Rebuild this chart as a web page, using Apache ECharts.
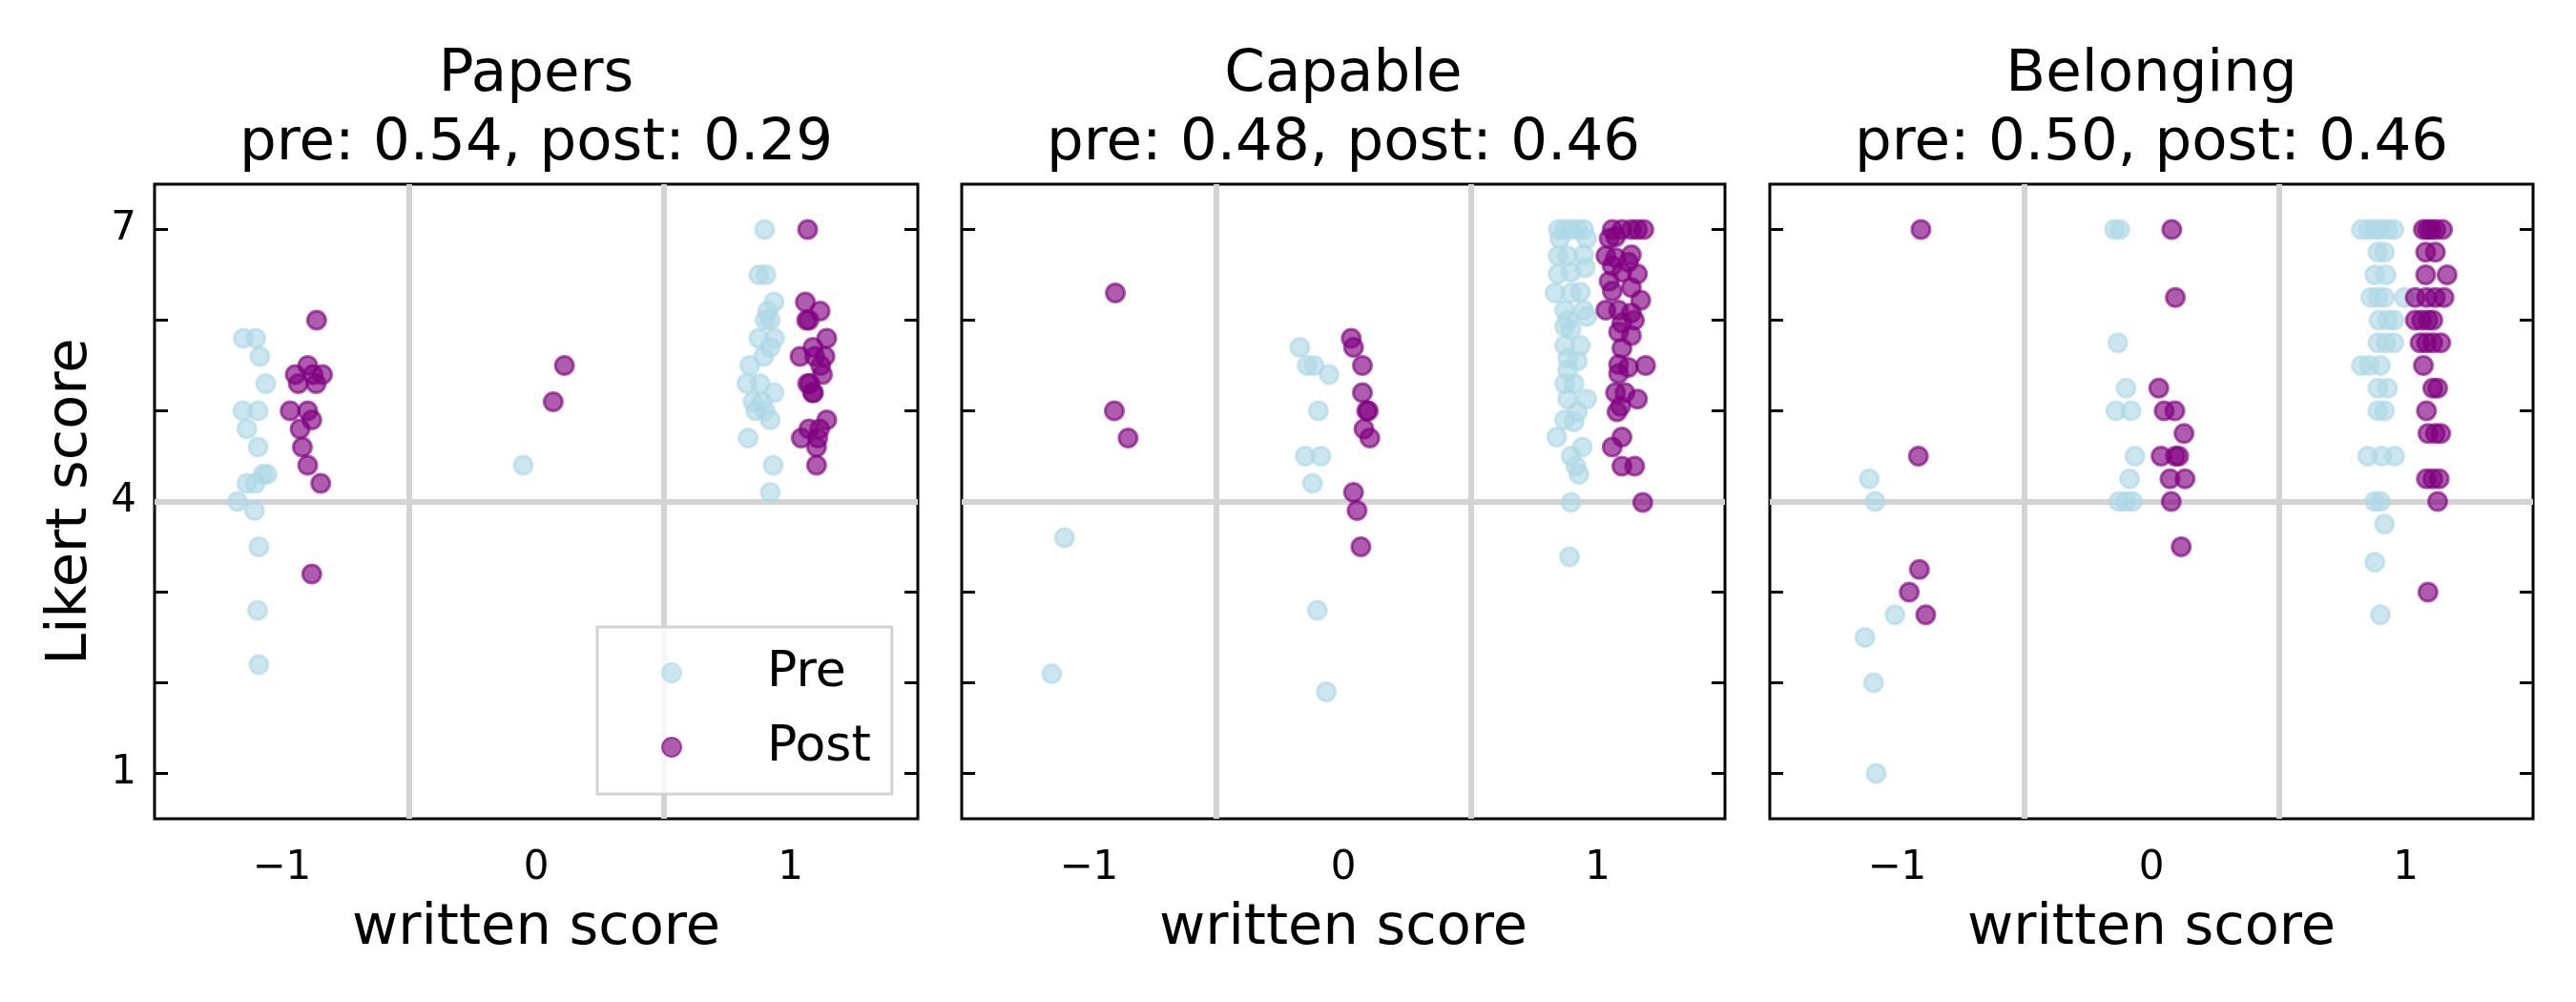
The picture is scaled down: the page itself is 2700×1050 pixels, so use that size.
<!DOCTYPE html>
<html>
<head>
<meta charset="utf-8">
<script src="https://cdn.jsdelivr.net/npm/echarts@6/dist/echarts.min.js"></script>
<style>
  html, body { margin: 0; padding: 0; background: #fff; }
  #chart { width: 2700px; height: 1050px; }
</style>
</head>
<body>
<div id="chart"></div>
<script>
// panel titles
const panelNames = ['Papers', 'Capable', 'Belonging']
const corrLabels = ['pre: 0.54, post: 0.29', 'pre: 0.48, post: 0.46', 'pre: 0.50, post: 0.46']

// tick values
const xLabelValues = [-1, 0, 1]
const yTickValues = [1, 2, 3, 4, 5, 6, 7]
const yLabelValues = [1, 4, 7]
const refLinesX = [-0.5, 0.5]
const refLineY = 4

// [written score (jittered), likert score]
const papersPre = [
  [-1.151, 5.8], [-1.102, 5.8], [-1.086, 5.6], [-1.063, 5.3], [-1.153, 5.0], [-1.093, 5.0],
  [-1.137, 4.8], [-1.093, 4.6], [-1.137, 4.2], [-1.104, 4.2], [-1.074, 4.3], [-1.058, 4.3],
  [-1.174, 4.0], [-1.107, 3.9], [-1.090, 3.5], [-1.095, 2.8], [-1.090, 2.2],
  [-0.051, 4.4],
  [0.898, 7.0], [0.875, 6.5], [0.903, 6.5], [0.935, 6.2], [0.910, 6.1], [0.900, 6.0],
  [0.920, 6.0], [0.875, 5.8], [0.937, 5.8], [0.920, 5.7], [0.894, 5.6], [0.840, 5.5],
  [0.828, 5.3], [0.880, 5.3], [0.935, 5.2], [0.852, 5.1], [0.887, 5.1], [0.863, 5.0],
  [0.900, 5.0], [0.920, 4.9], [0.833, 4.7], [0.932, 4.4], [0.920, 4.1]
]
const papersPost = [
  [-0.863, 6.0], [-0.947, 5.4], [-0.898, 5.5], [-0.840, 5.4], [-0.935, 5.3], [-0.865, 5.3],
  [-0.877, 5.4], [-0.967, 5.0], [-0.898, 5.0], [-0.882, 4.9], [-0.928, 4.8], [-0.919, 4.6],
  [-0.898, 4.4], [-0.847, 4.2], [-0.882, 3.2],
  [0.111, 5.5], [0.067, 5.1],
  [1.067, 7.0], [1.058, 6.2], [1.116, 6.1], [1.063, 6.0], [1.072, 6.0], [1.142, 5.8],
  [1.088, 5.7], [1.037, 5.6], [1.095, 5.6], [1.135, 5.6], [1.118, 5.5], [1.125, 5.4],
  [1.067, 5.3], [1.076, 5.3], [1.090, 5.2], [1.086, 5.2], [1.142, 4.9], [1.072, 4.8],
  [1.114, 4.8], [1.042, 4.7], [1.107, 4.7], [1.102, 4.6], [1.102, 4.4]
]
const capablePre = [
  [-1.096, 3.6], [-1.146, 2.1],
  [-0.171, 5.7], [-0.142, 5.5], [-0.115, 5.5], [-0.056, 5.4], [-0.098, 5.0], [-0.150, 4.5],
  [-0.088, 4.5], [-0.121, 4.2], [-0.102, 2.8], [-0.067, 1.9],
  [0.845, 7.0], [0.870, 7.0], [0.895, 7.0], [0.920, 7.0], [0.945, 7.0], [0.851, 6.9],
  [0.957, 6.9], [0.844, 6.71], [0.881, 6.71], [0.945, 6.72], [0.844, 6.51], [0.895, 6.53],
  [0.951, 6.58], [0.832, 6.30], [0.895, 6.30], [0.932, 6.31], [0.870, 6.11], [0.945, 6.11],
  [0.882, 6.0], [0.957, 6.04], [0.895, 5.9], [0.870, 5.93], [0.870, 5.72], [0.932, 5.72],
  [0.882, 5.58], [0.920, 5.55], [0.882, 5.45], [0.870, 5.30], [0.907, 5.30], [0.882, 5.13],
  [0.957, 5.13], [0.920, 4.99], [0.870, 4.9], [0.907, 4.88], [0.839, 4.71], [0.939, 4.60],
  [0.895, 4.50], [0.914, 4.39], [0.926, 4.30], [0.895, 3.99], [0.889, 3.39]
]
const capablePost = [
  [-0.896, 6.3], [-0.900, 5.0], [-0.846, 4.7],
  [0.031, 5.8], [0.040, 5.7], [0.075, 5.5], [0.075, 5.2], [0.092, 5.0], [0.098, 5.0],
  [0.081, 4.8], [0.104, 4.7], [0.040, 4.1], [0.054, 3.9], [0.069, 3.5],
  [1.057, 7.0], [1.095, 7.0], [1.132, 7.0], [1.156, 7.0], [1.181, 7.0], [1.045, 6.9],
  [1.070, 6.92], [1.032, 6.71], [1.070, 6.69], [1.132, 6.72], [1.057, 6.60], [1.120, 6.64],
  [1.095, 6.53], [1.156, 6.51], [1.045, 6.43], [1.057, 6.32], [1.132, 6.36], [1.169, 6.22],
  [1.032, 6.11], [1.082, 6.11], [1.132, 6.08], [1.095, 5.97], [1.144, 6.0], [1.082, 5.87],
  [1.132, 5.83], [1.095, 5.69], [1.082, 5.51], [1.120, 5.48], [1.188, 5.5], [1.082, 5.41],
  [1.070, 5.2], [1.107, 5.2], [1.156, 5.13], [1.076, 4.99], [1.090, 5.05], [1.095, 4.71],
  [1.057, 4.60], [1.095, 4.39], [1.145, 4.39], [1.177, 3.99]
]
const belongingPre = [
  [-1.109, 4.25], [-1.086, 4.0], [-1.008, 2.75], [-1.126, 2.5], [-1.092, 2.0], [-1.082, 1.0],
  [-0.145, 7.0], [-0.124, 7.0], [-0.132, 5.75], [-0.100, 5.25], [-0.140, 5.0], [-0.080, 5.0],
  [-0.065, 4.5], [-0.086, 4.25], [-0.128, 4.0], [-0.101, 4.0], [-0.075, 4.0],
  [0.825, 7.0], [0.853, 7.0], [0.878, 7.0], [0.900, 7.0], [0.928, 7.0], [0.953, 7.0],
  [0.890, 6.75], [0.916, 6.75], [0.878, 6.5], [0.922, 6.5],
  [0.862, 6.25], [0.890, 6.25], [0.916, 6.25], [0.994, 6.25],
  [0.894, 6.0], [0.928, 6.0], [0.953, 6.0], [0.890, 5.75], [0.922, 5.75], [0.953, 5.75],
  [0.825, 5.5], [0.856, 5.5], [0.900, 5.5], [0.890, 5.25], [0.928, 5.25],
  [0.890, 5.0], [0.916, 5.0], [0.850, 4.5], [0.906, 4.5], [0.956, 4.5],
  [0.878, 4.0], [0.900, 4.0], [0.916, 3.75], [0.878, 3.33], [0.900, 2.75]
]
const belongingPost = [
  [-0.906, 7.0], [-0.916, 4.5], [-0.912, 3.25], [-0.952, 3.0], [-0.887, 2.75],
  [0.080, 7.0], [0.094, 6.25], [0.029, 5.25], [0.050, 5.0], [0.092, 5.0], [0.128, 4.75],
  [0.038, 4.5], [0.094, 4.5], [0.107, 4.5], [0.073, 4.25], [0.132, 4.25], [0.078, 4.0],
  [0.117, 3.5],
  [1.069, 7.0], [1.085, 7.0], [1.100, 7.0], [1.118, 7.0], [1.144, 7.0],
  [1.078, 6.75], [1.116, 6.75], [1.078, 6.5], [1.162, 6.5],
  [1.037, 6.25], [1.081, 6.25], [1.116, 6.25], [1.150, 6.25],
  [1.037, 6.0], [1.062, 6.0], [1.087, 6.0], [1.106, 6.0],
  [1.056, 5.75], [1.081, 5.75], [1.106, 5.75], [1.137, 5.75],
  [1.069, 5.5], [1.106, 5.25], [1.125, 5.25], [1.081, 5.0],
  [1.087, 4.75], [1.116, 4.75], [1.137, 4.75],
  [1.081, 4.25], [1.106, 4.25], [1.131, 4.25], [1.125, 4.0], [1.087, 3.0]
]

const preData = [papersPre, capablePre, belongingPre]
const postData = [papersPost, capablePost, belongingPost]

const font = 'DejaVu Sans'
const preColor = 'rgba(173,216,230,0.8)'
const postColor = 'rgba(128,0,128,0.8)'
const gridLefts = [162, 1008, 1855]
const gridWidth = 800

const chart = echarts.init(document.getElementById('chart'), null, { renderer: 'canvas' })

const fmtX = v => (v < 0 ? '\u2212' + Math.abs(v) : String(v))

const grids = []
const xAxes = []
const yAxes = []
const titles = []
const series = []

for (let i = 0; i < 3; i++) {
  grids.push({
    left: gridLefts[i], top: 193, width: gridWidth, height: 665,
    show: true, borderColor: '#000', borderWidth: 3, backgroundColor: 'transparent'
  })
  titles.push({
    text: panelNames[i] + '\n' + corrLabels[i],
    left: gridLefts[i] + gridWidth / 2,
    top: 43,
    padding: 0,
    textAlign: 'center',
    textStyle: { fontFamily: font, fontSize: 61, fontWeight: 'normal', color: '#000', lineHeight: 72 }
  })
  xAxes.push({
    gridIndex: i, type: 'value', min: -1.5, max: 1.5,
    name: 'written score', nameLocation: 'middle', nameGap: 86,
    nameTextStyle: { fontFamily: font, fontSize: 59, color: '#000', lineHeight: 59 },
    axisLine: { show: false, onZero: false },
    axisTick: { show: false },
    splitLine: { show: false },
    axisLabel: {
      customValues: xLabelValues, formatter: fmtX, margin: 31,
      fontFamily: font, fontSize: 42, color: '#000', lineHeight: 42
    }
  })
  // left y axis
  yAxes.push({
    gridIndex: i, type: 'value', min: 0.5, max: 7.5, position: 'left',
    name: i === 0 ? 'Likert score' : '', nameLocation: 'middle', nameGap: 58, nameRotate: 90,
    nameTextStyle: { fontFamily: font, fontSize: 59, color: '#000', lineHeight: 59 },
    axisLine: { show: false, onZero: false },
    splitLine: { show: false },
    axisTick: { show: true, inside: true, length: 14, customValues: yTickValues, lineStyle: { color: '#000', width: 3 } },
    axisLabel: {
      show: i === 0, customValues: yLabelValues, margin: 19,
      fontFamily: font, fontSize: 42, color: '#000'
    }
  })
  // right y axis, ticks only
  yAxes.push({
    gridIndex: i, type: 'value', min: 0.5, max: 7.5, position: 'right',
    axisLine: { show: false, onZero: false },
    splitLine: { show: false },
    axisTick: { show: true, inside: true, length: 14, customValues: yTickValues, lineStyle: { color: '#000', width: 3 } },
    axisLabel: { show: false, customValues: yTickValues }
  })

  // light grey reference lines
  series.push({
    name: 'ref', type: 'scatter', xAxisIndex: i, yAxisIndex: i * 2, data: [], z: 1,
    silent: true,
    markLine: {
      silent: true, z: 1, symbol: ['none', 'none'], animation: false,
      label: { show: false },
      lineStyle: { color: '#d3d3d3', width: 6, type: 'solid' },
      emphasis: { disabled: true },
      data: refLinesX.map(v => ({ xAxis: v })).concat([{ yAxis: refLineY }])
    }
  })
  series.push({
    name: 'Pre', type: 'scatter', xAxisIndex: i, yAxisIndex: i * 2, z: 3,
    data: preData[i], symbol: 'circle', symbolSize: 19,
    itemStyle: { color: preColor, borderColor: preColor, borderWidth: 3 },
    emphasis: { disabled: true }
  })
  series.push({
    name: 'Post', type: 'scatter', xAxisIndex: i, yAxisIndex: i * 2, z: 4,
    data: postData[i], symbol: 'circle', symbolSize: 19,
    itemStyle: { color: postColor, borderColor: postColor, borderWidth: 3 },
    emphasis: { disabled: true }
  })
}

const option = {
  backgroundColor: '#fff',
  animation: false,
  title: titles,
  grid: grids,
  xAxis: xAxes,
  yAxis: yAxes,
  legend: {
    data: ['Pre', 'Post'],
    orient: 'vertical',
    left: 626, top: 657,
    padding: [22, 22, 23, 67],
    itemGap: 26,
    itemWidth: 20, itemHeight: 20,
    borderColor: '#d3d3d3', borderWidth: 3, borderRadius: 0,
    backgroundColor: 'rgba(255,255,255,0.8)',
    selectedMode: false,
    textStyle: { fontFamily: font, fontSize: 52, color: '#000', lineHeight: 52, padding: [0, 0, 0, 85] }
  },
  series: series
}

chart.setOption(option)
</script>
</body>
</html>
